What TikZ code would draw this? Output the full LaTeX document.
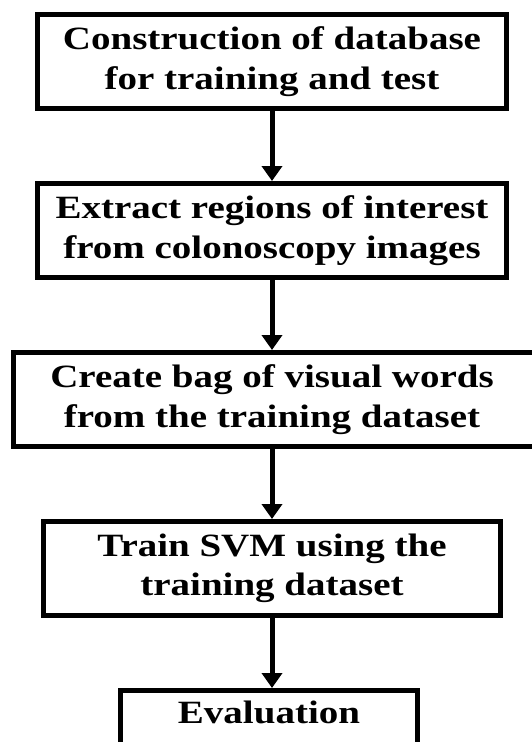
\documentclass[tikz,border=0pt]{standalone}
\usepackage{fontspec}
\setmainfont{Liberation Serif}[FakeStretch=1.2]
\usetikzlibrary{positioning}
\usetikzlibrary{arrows.meta}

\begin{document}
\begin{tikzpicture}[x=1pt, y=1pt, line width=5pt,
    stepbox/.style={draw, inner sep=0, minimum height=94pt, align=center,
        font=\fontsize{32.5}{39.5}\selectfont\bfseries},
    flow/.style={-{Triangle[width=20pt, length=15pt]}}]
    \newcommand\boxgap{70pt}

\useasboundingbox (0, 0) rectangle (531, -742);

\node[stepbox, minimum width=469pt] (database) at (272, -61.5)
    {Construction of database\\for training and test};

\node[stepbox, minimum width=469pt, below=\boxgap of database] (regions)
    {Extract regions of interest\\from colonoscopy images};

\node[stepbox, minimum width=535pt, below=\boxgap of regions, xshift=9pt] (bag)
    {\hspace*{-18pt}Create bag of visual words\\\hspace*{-18pt}from the training dataset};

\node[stepbox, minimum width=457pt, below=\boxgap of bag, xshift=-9pt] (svm)
    {Train SVM using the\\training dataset};

\node[stepbox, minimum width=297pt, below=\boxgap of svm, xshift=-3pt] (evaluation)
    {Evaluation\\\strut};

    \draw[flow] (database) -- (regions);
    \draw[flow] (regions) -- (regions |- bag.north);
    \draw[flow] (svm |- bag.south) -- (svm);
    \draw[flow] (svm) -- (svm |- evaluation.north);
\end{tikzpicture}
\end{document}
